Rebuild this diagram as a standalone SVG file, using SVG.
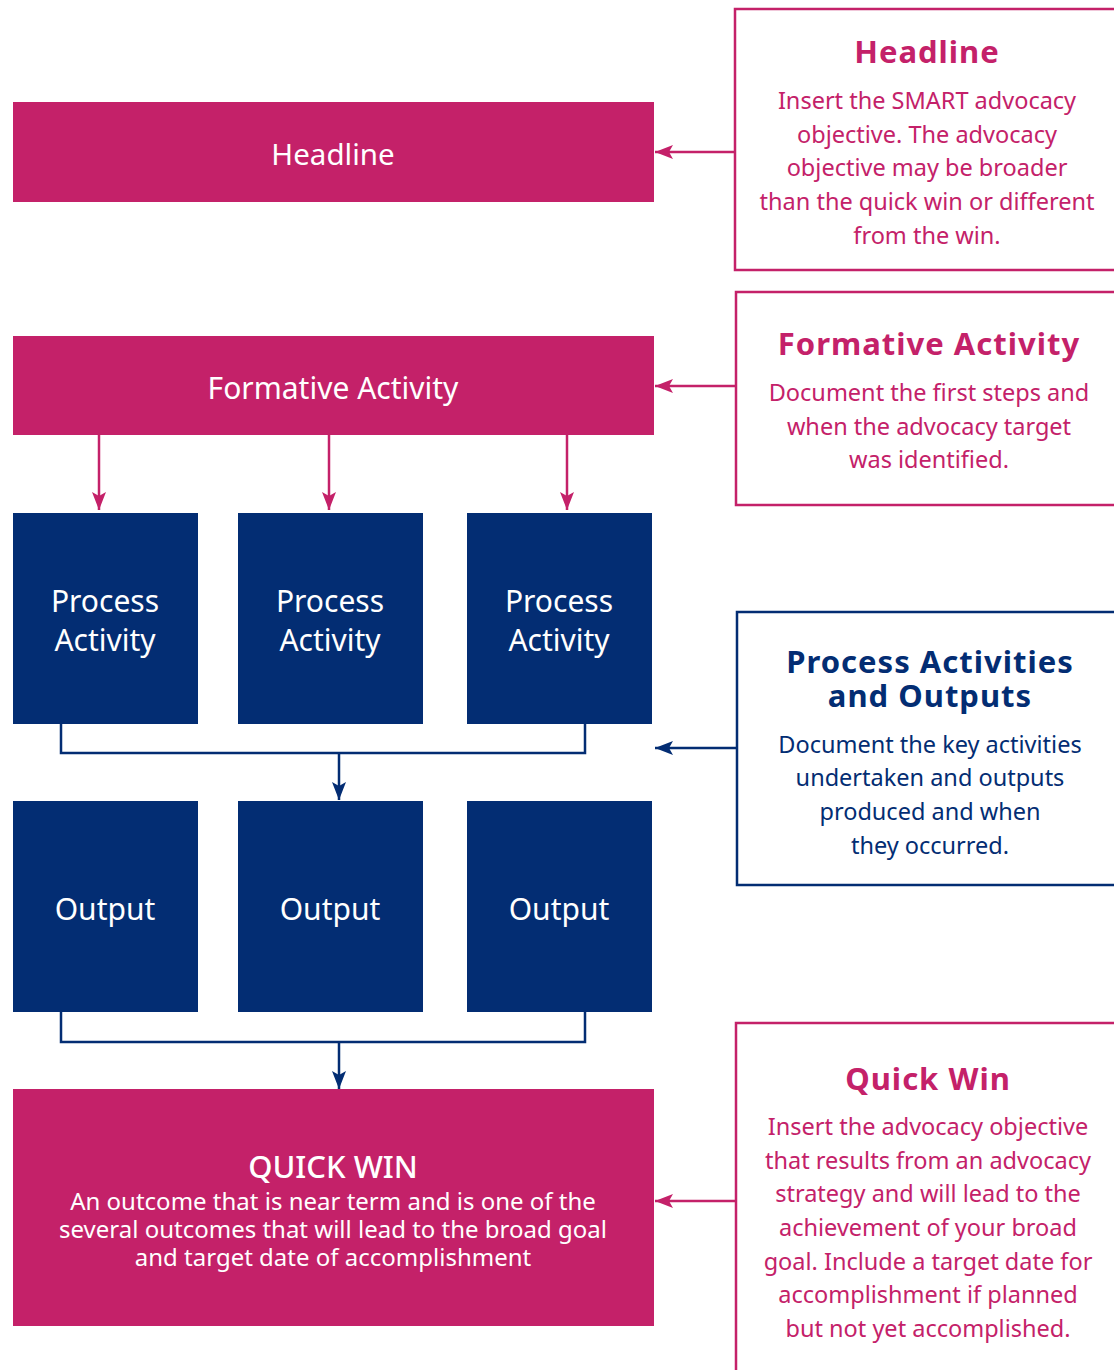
<svg xmlns="http://www.w3.org/2000/svg" width="1114" height="1370" viewBox="0 0 1114 1370">
<style>
.pk{fill:#C42169}
.nv{fill:#032D73}
.wt{fill:#fff;font-family:"Noto Sans",sans-serif;text-anchor:middle}
.ttl{font-family:"Noto Sans",sans-serif;font-weight:bold;text-anchor:middle;font-size:31px;letter-spacing:1px}
.bd{font-family:"Noto Sans",sans-serif;text-anchor:middle;font-size:23.5px}
.tp{fill:#C42169}
.tn{fill:#032D73}
.bp{fill:#fff;stroke:#C42169;stroke-width:2.5}
.bn{fill:#fff;stroke:#032D73;stroke-width:2.5}
.cp{fill:none;stroke:#C42169;stroke-width:2.5}
.cn{fill:none;stroke:#032D73;stroke-width:2.5}
</style>
<defs>
<marker id="ap2" viewBox="0 0 18 14" refX="18" refY="7" markerWidth="18" markerHeight="14" markerUnits="userSpaceOnUse" orient="auto"><path d="M0,0 L18,7 L0,14 L4,7 z" fill="#C42169"/></marker>
<marker id="an2" viewBox="0 0 18 14" refX="18" refY="7" markerWidth="18" markerHeight="14" markerUnits="userSpaceOnUse" orient="auto"><path d="M0,0 L18,7 L0,14 L4,7 z" fill="#032D73"/></marker>
</defs>

<g id="connectors">
<path class="cp" d="M735,152 H655" marker-end="url(#ap2)"/>
<path class="cp" d="M736,386 H655" marker-end="url(#ap2)"/>
<path class="cn" d="M737,748 H655" marker-end="url(#an2)"/>
<path class="cp" d="M736,1201 H655" marker-end="url(#ap2)"/>
<path class="cp" d="M99,435 V510" marker-end="url(#ap2)"/>
<path class="cp" d="M329,435 V510" marker-end="url(#ap2)"/>
<path class="cp" d="M567,435 V510" marker-end="url(#ap2)"/>
<path class="cn" d="M61,724 V753 H585 V724"/>
<path class="cn" d="M339,753 V800" marker-end="url(#an2)"/>
<path class="cn" d="M61,1012 V1042 H585 V1012"/>
<path class="cn" d="M339,1042 V1089" marker-end="url(#an2)"/>
</g>

<g id="headline">
<rect class="pk" x="13" y="102" width="641" height="100"/>
<text class="wt" x="333" y="165" font-size="29.5">Headline</text>
</g>

<g id="formative">
<rect class="pk" x="13" y="336" width="641" height="99"/>
<text class="wt" x="333" y="399" font-size="30">Formative Activity</text>
</g>

<g id="process1">
<rect class="nv" x="13" y="513" width="185" height="211"/>
<text class="wt" x="105" y="612" font-size="30">Process</text>
<text class="wt" x="105" y="651" font-size="30">Activity</text>
</g>
<g id="process2">
<rect class="nv" x="238" y="513" width="185" height="211"/>
<text class="wt" x="330" y="612" font-size="30">Process</text>
<text class="wt" x="330" y="651" font-size="30">Activity</text>
</g>
<g id="process3">
<rect class="nv" x="467" y="513" width="185" height="211"/>
<text class="wt" x="559" y="612" font-size="30">Process</text>
<text class="wt" x="559" y="651" font-size="30">Activity</text>
</g>

<g id="output1">
<rect class="nv" x="13" y="801" width="185" height="211"/>
<text class="wt" x="105" y="920" font-size="30">Output</text>
</g>
<g id="output2">
<rect class="nv" x="238" y="801" width="185" height="211"/>
<text class="wt" x="330" y="920" font-size="30">Output</text>
</g>
<g id="output3">
<rect class="nv" x="467" y="801" width="185" height="211"/>
<text class="wt" x="559" y="920" font-size="30">Output</text>
</g>

<g id="quickwin">
<rect class="pk" x="13" y="1089" width="641" height="237"/>
<text class="wt" x="333" y="1178" font-size="31" font-weight="500">QUICK WIN</text>
<text class="wt" x="333" y="1210" font-size="24">An outcome that is near term and is one of the</text>
<text class="wt" x="333" y="1238" font-size="24">several outcomes that will lead to the broad goal</text>
<text class="wt" x="333" y="1266" font-size="24">and target date of accomplishment</text>
</g>

<g id="note-headline">
<rect class="bp" x="735" y="9" width="390" height="261"/>
<text class="ttl tp" x="927" y="63">Headline</text>
<text class="bd tp" x="927" y="109">Insert the SMART advocacy</text>
<text class="bd tp" x="927" y="143">objective. The advocacy</text>
<text class="bd tp" x="927" y="176">objective may be broader</text>
<text class="bd tp" x="927" y="210">than the quick win or different</text>
<text class="bd tp" x="927" y="244">from the win.</text>
</g>

<g id="note-formative">
<rect class="bp" x="736" y="292" width="390" height="213"/>
<text class="ttl tp" x="929" y="355">Formative Activity</text>
<text class="bd tp" x="929" y="401">Document the first steps and</text>
<text class="bd tp" x="929" y="435">when the advocacy target</text>
<text class="bd tp" x="929" y="468">was identified.</text>
</g>

<g id="note-process">
<rect class="bn" x="737" y="612" width="390" height="273"/>
<text class="ttl tn" x="930" y="673">Process Activities</text>
<text class="ttl tn" x="930" y="707">and Outputs</text>
<text class="bd tn" x="930" y="753">Document the key activities</text>
<text class="bd tn" x="930" y="786">undertaken and outputs</text>
<text class="bd tn" x="930" y="820">produced and when</text>
<text class="bd tn" x="930" y="854">they occurred.</text>
</g>

<g id="note-quickwin">
<rect class="bp" x="736" y="1023" width="390" height="360"/>
<text class="ttl tp" x="928" y="1090">Quick Win</text>
<text class="bd tp" x="928" y="1135">Insert the advocacy objective</text>
<text class="bd tp" x="928" y="1169">that results from an advocacy</text>
<text class="bd tp" x="928" y="1202">strategy and will lead to the</text>
<text class="bd tp" x="928" y="1236">achievement of your broad</text>
<text class="bd tp" x="928" y="1270">goal. Include a target date for</text>
<text class="bd tp" x="928" y="1303">accomplishment if planned</text>
<text class="bd tp" x="928" y="1337">but not yet accomplished.</text>
</g>
</svg>
